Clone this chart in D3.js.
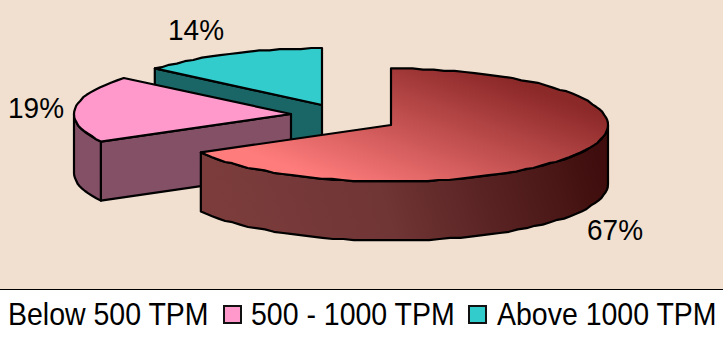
<!DOCTYPE html>
<html>
<head>
<meta charset="utf-8">
<script src="https://cdn.jsdelivr.net/npm/d3@7"></script>
<style>
html,body{margin:0;padding:0;background:#fff}
svg{display:block}
text{font-family:"Liberation Sans",Arial,sans-serif;fill:#000}
</style>
</head>
<body>
<svg id="chart" width="723" height="338"></svg>
<script>
// Share of traffic by transaction rate
const categories = ["Below 500 TPM", "500 - 1000 TPM", "Above 1000 TPM"];
const shares = [67, 19, 14];
const shareLabels = ["67%", "19%", "14%"];
const topColors = [null, "#ff99cc", "#33cccc"];
const wallColors = [null, "#845066", "#1a6666"];

const W = 723, H = 338, plotH = 289;
const rx = 217, ry = 56.5, depth = 59;
const apexes = [[391, 125], [291, 114], [322, 105]];
const labelAt = [[587, 240], [8, 118], [168, 40]];

const svg = d3.select("#chart");
const defs = svg.append("defs");

const topGrad = defs.append("linearGradient").attr("id", "redTop")
  .attr("gradientUnits", "userSpaceOnUse")
  .attr("x1", 330).attr("y1", 183).attr("x2", 386).attr("y2", 33);
topGrad.append("stop").attr("offset", 0).attr("stop-color", "#ff7c7c");
topGrad.append("stop").attr("offset", 1).attr("stop-color", "#8b2828");

const wallGrad = defs.append("linearGradient").attr("id", "redWall")
  .attr("gradientUnits", "userSpaceOnUse")
  .attr("x1", 230).attr("y1", 240).attr("x2", 590).attr("y2", 130);
wallGrad.append("stop").attr("offset", 0).attr("stop-color", "#7c3c3c");
wallGrad.append("stop").attr("offset", 0.42).attr("stop-color", "#703535");
wallGrad.append("stop").attr("offset", 1).attr("stop-color", "#3f0d0d");

svg.append("rect").attr("width", W).attr("height", plotH).attr("fill", "#f1e0d0");
svg.append("rect").attr("x", 0).attr("y", plotH).attr("width", W).attr("height", 1).attr("fill", "#000");

const pie = d3.pie().sort(null).startAngle(0).endAngle(2 * Math.PI);
const arcs = pie(shares);
const line = d3.line();

// Point on the tilted rim of a slice, dropped by `z`; rim heights snap to a fine grid.
const snap = v => Math.round(v / 1.2) * 1.2;
const rim = (apex, a, z = 0) => [apex[0] + rx * Math.sin(a), snap(apex[1] - ry * Math.cos(a)) + z];

function arcPoints(apex, a0, a1, z = 0) {
  const n = Math.max(2, Math.ceil(Math.abs(a1 - a0) / 0.05));
  return d3.range(n + 1).map(i => rim(apex, a0 + (a1 - a0) * i / n, z));
}

function face(points, fill) {
  svg.append("path").attr("d", line(points) + "Z").attr("fill", fill)
    .attr("stroke", "#000").attr("stroke-width", 2.2).attr("stroke-linejoin", "round");
}

// Painter's order: rear slice first, large slice last.
[2, 1, 0].forEach(i => {
  const d = arcs[i], apex = apexes[i];
  const wall = i === 0 ? "url(#redWall)" : wallColors[i];
  const top = i === 0 ? "url(#redTop)" : topColors[i];

  // Cut face along the leading radius, when it looks toward the viewer
  if (i !== 0) {
    const p = rim(apex, d.startAngle);
    const below = ([x, y]) => [x, y + depth];
    face([apex, p, below(p), below(apex)], wall);
  }

  // Curved wall: only the part of the rim on the near side of the ellipse
  const a0 = Math.max(d.startAngle, Math.PI / 2);
  const a1 = Math.min(d.endAngle, 3 * Math.PI / 2);
  if (a1 > a0) {
    face(arcPoints(apex, a0, a1).concat(arcPoints(apex, a1, a0, depth)), wall);
  }

  face([apex].concat(arcPoints(apex, d.startAngle, d.endAngle)), top);
});

// Text is set slightly taller than its natural proportions
const tall = (x, y) => `translate(${x},${y}) scale(1,1.07)`;

svg.selectAll("text.share").data(shareLabels).join("text")
  .attr("class", "share")
  .attr("transform", (d, i) => tall(labelAt[i][0], labelAt[i][1]))
  .attr("font-size", 28).text(d => d);

// Legend row; the first key sits flush with the left edge with no swatch
const legendItems = [
  { x: 8, swatch: null },
  { x: 251, swatch: 224 },
  { x: 497, swatch: 469 }
];
const legendBaseline = 325;
categories.forEach((name, i) => {
  const item = legendItems[i];
  if (item.swatch !== null) {
    svg.append("rect").attr("x", item.swatch).attr("y", 306).attr("width", 17).attr("height", 17)
      .attr("fill", topColors[i]).attr("stroke", "#111").attr("stroke-width", 2);
  }
  svg.append("text").attr("transform", tall(item.x, legendBaseline)).attr("font-size", 28.5).text(name);
});
</script>
</body>
</html>
